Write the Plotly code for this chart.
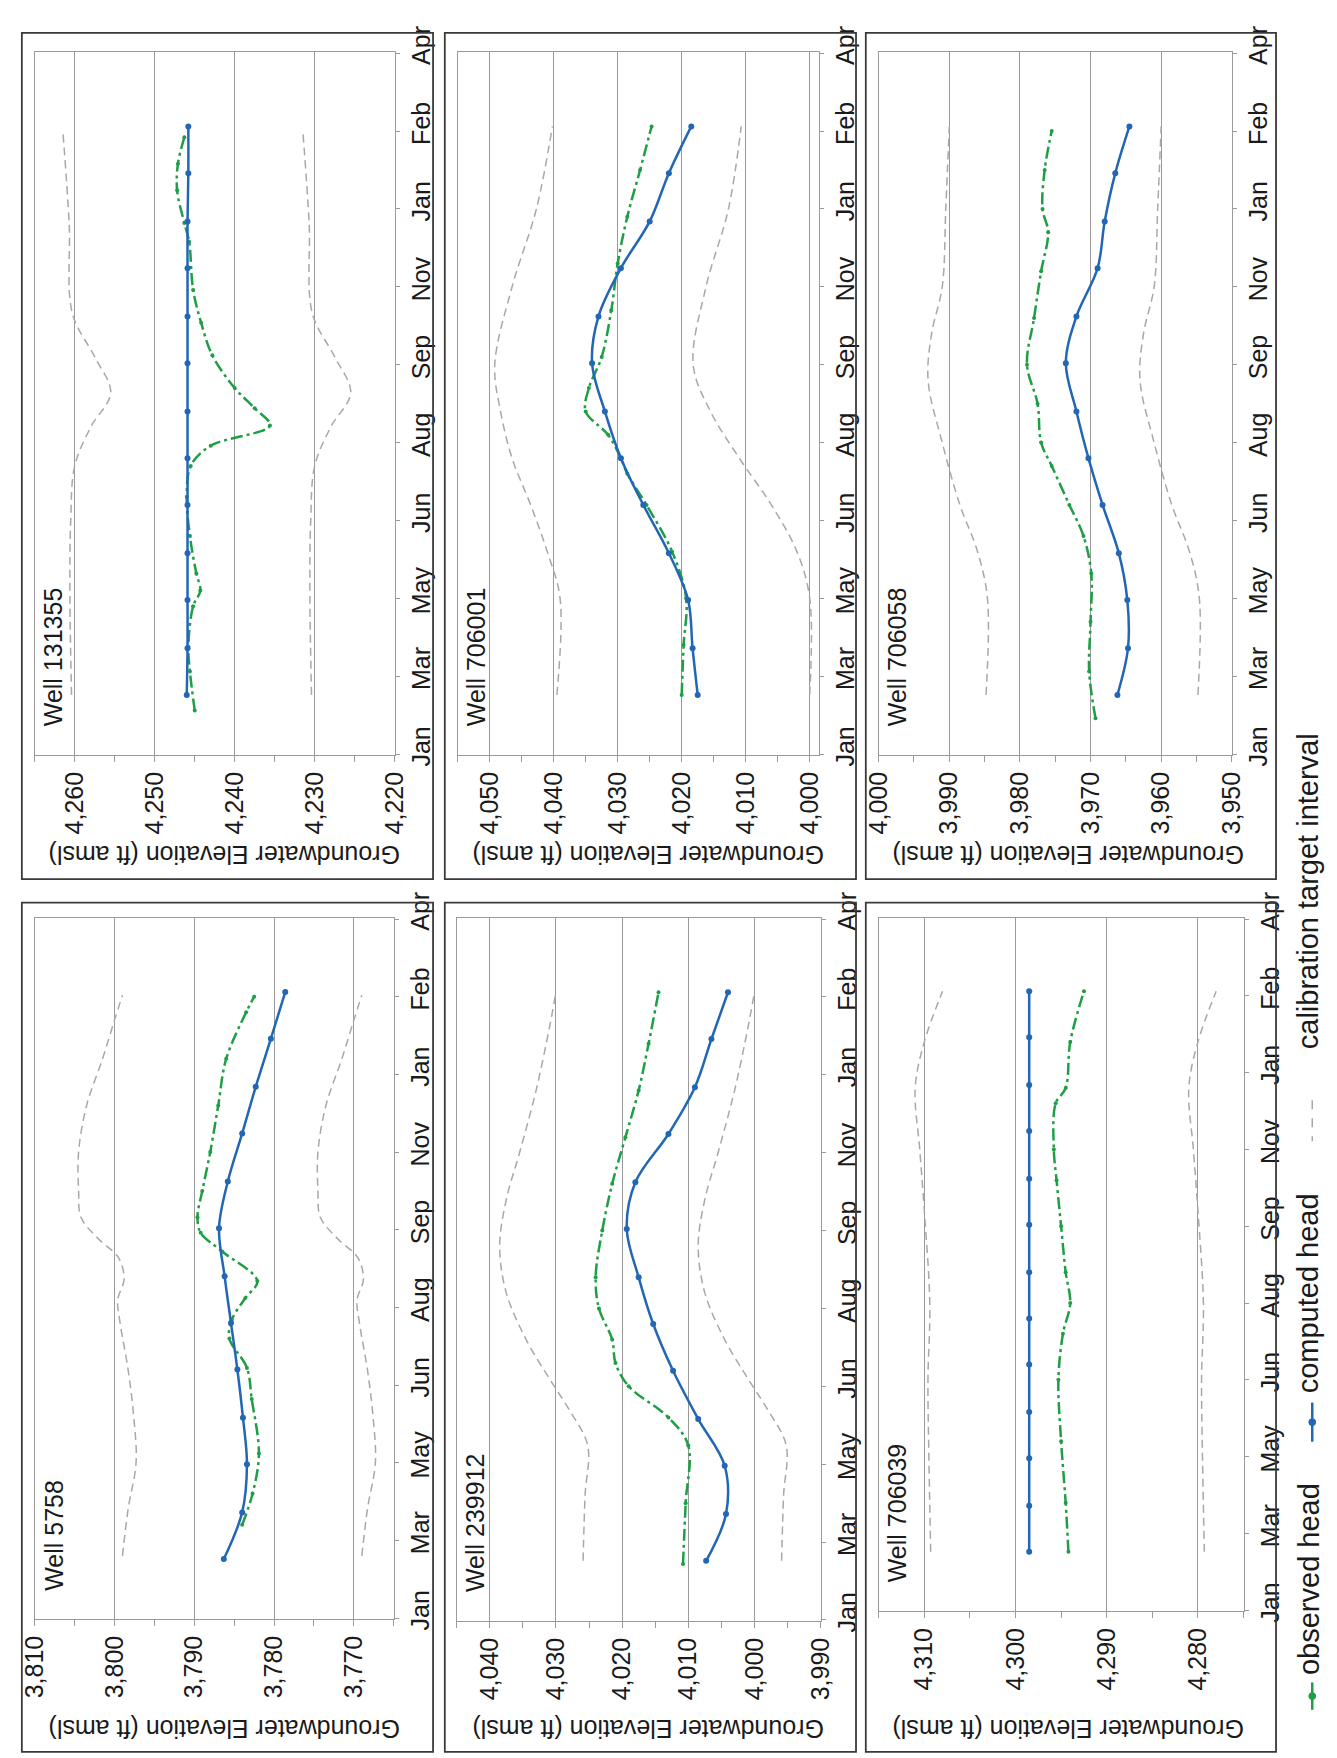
import plotly.graph_objects as go

W, H = 1337, 1758

# ---------------- data ----------------
months = ["Jan", "Mar", "May", "Jun", "Aug", "Sep", "Nov", "Jan", "Feb", "Apr"]
month_pos = [0, 50, 100, 150, 200, 250, 300, 350, 400, 450]   # day on time axis

t_computed = [38, 68, 99, 129, 160, 190, 220, 251, 281, 312, 342, 373, 403]

# Well 131355
w131355_comp = [4246.0, 4245.9, 4245.9, 4245.9, 4245.9, 4245.9, 4245.9, 4245.9, 4245.9, 4245.9, 4245.9, 4245.8, 4245.8]
w131355_obs_t = [28, 53, 69, 95, 105, 116, 140, 165, 185, 198, 211, 222, 235, 256, 277, 298, 329, 341, 362, 379, 396]
w131355_obs = [4245.0, 4245.6, 4245.8, 4245.2, 4244.3, 4244.8, 4245.6, 4246.0, 4245.5, 4243.0, 4235.6, 4237.5, 4240.0, 4242.8, 4244.2, 4245.2, 4245.7, 4246.3, 4247.2, 4247.1, 4246.3]
w131355_cal_t = [38, 100, 150, 185, 210, 232, 255, 283, 341, 401]
w131355_cal_hi = [4260.4, 4260.6, 4260.5, 4260.0, 4258.0, 4255.5, 4257.5, 4260.3, 4260.7, 4261.5]
w131355_cal_lo = [4230.4, 4230.6, 4230.5, 4230.0, 4228.0, 4225.5, 4227.5, 4230.3, 4230.7, 4231.5]

# Well 706001
w706001_comp = [4017.5, 4018.3, 4019.0, 4022.0, 4026.0, 4029.5, 4032.0, 4034.0, 4033.0, 4029.5, 4025.0, 4022.0, 4018.5]
w706001_obs_t = [38, 70, 100, 130, 160, 180, 190, 205, 220, 235, 255, 285, 315, 345, 375, 403]
w706001_obs = [4020.0, 4019.7, 4019.3, 4021.5, 4025.5, 4028.5, 4029.5, 4031.5, 4035.0, 4034.5, 4032.5, 4031.0, 4030.0, 4028.5, 4026.5, 4024.7]
w706001_cal_t = [38, 100, 130, 160, 190, 220, 250, 300, 350, 403]
w706001_cal_hi = [4039.5, 4039.0, 4041.0, 4043.6, 4046.5, 4048.3, 4049.2, 4046.5, 4042.7, 4040.2]
w706001_cal_lo = [4000.0, 4000.0, 4002.0, 4006.0, 4011.0, 4015.5, 4018.2, 4016.2, 4012.7, 4010.7]

# Well 706058
w706058_comp = [3966.2, 3964.7, 3964.8, 3966.0, 3968.3, 3970.3, 3972.0, 3973.5, 3972.0, 3969.0, 3968.0, 3966.5, 3964.5]
w706058_obs_t = [23, 53, 85, 116, 140, 160, 185, 200, 225, 250, 280, 310, 335, 350, 375, 400]
w706058_obs = [3969.3, 3970.2, 3970.0, 3969.9, 3971.0, 3973.0, 3975.5, 3977.0, 3977.5, 3979.0, 3978.0, 3977.0, 3976.0, 3976.8, 3976.5, 3975.5]
w706058_cal_t = [38, 100, 130, 160, 200, 240, 270, 300, 350, 403]
w706058_cal_hi = [3984.8, 3984.6, 3986.0, 3988.5, 3991.0, 3993.0, 3992.5, 3991.0, 3990.5, 3990.0]
w706058_cal_lo = [3954.8, 3954.6, 3956.0, 3958.5, 3961.0, 3963.0, 3962.5, 3961.0, 3960.5, 3960.0]

# Well 5758
w5758_comp = [3786.3, 3784.0, 3783.4, 3783.9, 3784.6, 3785.4, 3786.2, 3786.9, 3785.8, 3784.0, 3782.3, 3780.4, 3778.6]
w5758_obs_t = [60, 80, 106, 141, 161, 180, 192, 206, 217, 236, 248, 258, 275, 300, 330, 360, 390, 400]
w5758_obs = [3784.0, 3782.7, 3781.9, 3782.8, 3783.4, 3785.6, 3785.3, 3783.6, 3782.1, 3786.5, 3789.2, 3789.6, 3789.0, 3788.0, 3787.0, 3786.0, 3783.5, 3782.5]
w5758_cal_t = [40, 70, 100, 130, 160, 190, 205, 218, 232, 244, 258, 275, 300, 330, 360, 385, 401]
w5758_cal_hi = [3799.0, 3798.3, 3797.3, 3797.6, 3798.3, 3799.3, 3799.6, 3798.8, 3799.5, 3802.0, 3804.2, 3804.5, 3804.5, 3803.5, 3801.5, 3800.0, 3799.0]
w5758_cal_lo = [3769.0, 3768.3, 3767.3, 3767.6, 3768.3, 3769.3, 3769.6, 3768.8, 3769.5, 3772.0, 3774.2, 3774.5, 3774.5, 3773.5, 3771.5, 3770.0, 3769.0]

# Well 239912
w239912_comp = [4007.3, 4004.3, 4004.5, 4008.5, 4012.3, 4015.3, 4017.5, 4019.3, 4018.0, 4013.0, 4009.0, 4006.5, 4004.0]
w239912_obs_t = [36, 75, 112, 130, 150, 165, 180, 200, 220, 250, 280, 310, 340, 370, 403]
w239912_obs = [4010.8, 4010.4, 4010.0, 4013.0, 4019.0, 4021.0, 4021.5, 4023.5, 4024.0, 4023.0, 4021.5, 4019.5, 4017.5, 4016.0, 4014.5]
w239912_cal_t = [38, 80, 112, 135, 155, 180, 210, 240, 270, 300, 340, 380, 403]
w239912_cal_hi = [4025.9, 4025.6, 4025.2, 4028.0, 4031.0, 4034.5, 4037.5, 4038.5, 4037.5, 4035.5, 4033.0, 4031.0, 4030.0]
w239912_cal_lo = [3995.9, 3995.6, 3995.2, 3998.0, 4001.0, 4004.5, 4007.5, 4008.5, 4007.5, 4005.5, 4003.0, 4001.0, 4000.0]

# Well 706039
w706039_comp = [4298.5, 4298.5, 4298.5, 4298.5, 4298.5, 4298.5, 4298.5, 4298.5, 4298.5, 4298.5, 4298.5, 4298.5, 4298.5]
w706039_obs_t = [38, 70, 110, 150, 180, 200, 220, 250, 280, 300, 330, 340, 370, 403]
w706039_obs = [4294.2, 4294.5, 4295.0, 4295.3, 4294.8, 4294.0, 4294.5, 4295.0, 4295.5, 4295.8, 4295.6, 4294.5, 4294.0, 4292.5]
w706039_cal_t = [38, 100, 150, 200, 260, 300, 340, 370, 403]
w706039_cal_hi = [4309.3, 4309.5, 4309.6, 4309.4, 4310.0, 4310.5, 4311.0, 4310.0, 4308.0]
w706039_cal_lo = [4279.3, 4279.5, 4279.6, 4279.4, 4280.0, 4280.5, 4281.0, 4280.0, 4278.0]

wells = [
    ("Well 131355", w131355_comp, w131355_obs_t, w131355_obs, w131355_cal_t, w131355_cal_hi, w131355_cal_lo),
    ("Well 706001", w706001_comp, w706001_obs_t, w706001_obs, w706001_cal_t, w706001_cal_hi, w706001_cal_lo),
    ("Well 706058", w706058_comp, w706058_obs_t, w706058_obs, w706058_cal_t, w706058_cal_hi, w706058_cal_lo),
    ("Well 5758", w5758_comp, w5758_obs_t, w5758_obs, w5758_cal_t, w5758_cal_hi, w5758_cal_lo),
    ("Well 239912", w239912_comp, w239912_obs_t, w239912_obs, w239912_cal_t, w239912_cal_hi, w239912_cal_lo),
    ("Well 706039", w706039_comp, w706039_obs_t, w706039_obs, w706039_cal_t, w706039_cal_hi, w706039_cal_lo),
]

# ---------------- layout geometry (pixels) ----------------
# plot area: x0, x1, y0, y1, elevation axis range (left=high, right=low)
panels = [
    (20, 388, 27, 745, 4265, 4220),
    (452, 821, 27, 745, 4055, 3998.6),
    (882, 1243, 27, 745, 4000, 3950),
    (20, 387, 912, 1628, 3810, 3765),
    (451, 823, 912, 1630, 4045, 3990),
    (882, 1255, 912, 1620, 4315, 4275),
]
boxes_x = [(7, 427), (439, 859), (869, 1288)]
boxes_y = [(7, 872), (896, 1764)]

FONT = "Liberation Sans, Arial, Helvetica, sans-serif"
BLUE = "#2266b4"
GREEN = "#1f9e45"
GRAY = "#a8a8a8"
GRID = "#9a9a9a"
TXT = "#1a1a1a"

def px(x):
    return x / W

def py(y):
    return 1 - y / H

fig = go.Figure()
layout = dict(
    width=W, height=H, autosize=False,
    margin=dict(l=0, r=0, t=0, b=0),
    paper_bgcolor="white", plot_bgcolor="white",
    showlegend=False,
    font=dict(family=FONT, size=25, color=TXT),
)
annotations = []
shapes = []

for i, (p, w) in enumerate(zip(panels, wells)):
    k = i + 1
    x0, x1, y0, y1, hi, lo = p
    name, comp, obs_t, obs, cal_t, cal_hi, cal_lo = w
    xa = "x" if k == 1 else f"x{k}"
    ya = "y" if k == 1 else f"y{k}"
    pad = 0.02
    layout["xaxis" if k == 1 else f"xaxis{k}"] = dict(
        domain=[px(x0), px(x1)], anchor=ya,
        range=[hi + pad, lo - pad], dtick=10, tick0=0, tickformat=",d",
        tickangle=-90, tickfont=dict(size=25, color=TXT, family=FONT),
        ticks="outside", ticklen=6, tickcolor=GRID, tickwidth=1,
        minor=dict(dtick=5, ticks="outside", ticklen=6, tickcolor=GRID, showgrid=False),
        showgrid=True, gridcolor=GRID, gridwidth=1,
        showline=True, linecolor=GRID, linewidth=1, mirror=True,
        zeroline=False, fixedrange=True,
    )
    layout["yaxis" if k == 1 else f"yaxis{k}"] = dict(
        domain=[py(y1), py(y0)], anchor=xa, side="right",
        range=[-0.5, 450.5], tickvals=month_pos, ticktext=months,
        tickangle=-90, tickfont=dict(size=25, color=TXT, family=FONT),
        ticklabelshift=-4,
        ticks="outside", ticklen=4, tickcolor=GRID,
        showgrid=False, showline=True, linecolor=GRID, linewidth=1, mirror=True,
        zeroline=False, fixedrange=True,
    )
    # calibration interval
    for arr in (cal_hi, cal_lo):
        fig.add_trace(go.Scatter(
            x=arr, y=cal_t, xaxis=xa, yaxis=ya, mode="lines",
            line=dict(color=GRAY, width=1.5, dash="8px,5px", shape="spline", smoothing=1.0),
            hoverinfo="skip"))
    # observed head
    fig.add_trace(go.Scatter(
        x=obs, y=obs_t, xaxis=xa, yaxis=ya, mode="lines+markers",
        line=dict(color=GREEN, width=2.5, dash="12px,4px,3px,4px", shape="spline", smoothing=1.0),
        marker=dict(color=GREEN, size=4), name="observed head"))
    # computed head
    fig.add_trace(go.Scatter(
        x=comp, y=t_computed, xaxis=xa, yaxis=ya, mode="lines+markers",
        line=dict(color=BLUE, width=2.5, shape="spline", smoothing=1.0),
        marker=dict(color=BLUE, size=6), name="computed head"))

    # well label
    ly = y1 - 30 - 70 if i < 3 else y1 - 30 - (55 if name == "Well 5758" else 70)
    annotations.append(dict(
        text=name, xref="paper", yref="paper", x=px(x0 + 19), y=py(ly),
        xanchor="center", yanchor="middle", textangle=-90, showarrow=False,
        font=dict(size=25, color=TXT, family=FONT)))

# axis titles (upside down) and panel boxes
for r, (by0, by1) in enumerate(boxes_y):
    for c, (bx0, bx1) in enumerate(boxes_x):
        annotations.append(dict(
            text="Groundwater Elevation (ft amsl)", xref="paper", yref="paper",
            x=px((bx0 + bx1) / 2 - 3), y=py(848 if r == 0 else 1740),
            xanchor="center", yanchor="middle", textangle=180, showarrow=False,
            font=dict(size=25, color=TXT, family=FONT)))
        shapes.append(dict(type="rect", xref="paper", yref="paper",
                           x0=px(bx0), x1=px(bx1), y0=py(by1), y1=py(by0),
                           line=dict(color="#3a3a3a", width=1.8)))

# legend (rotated, right side)
LX = 1325
leg = [
    ("observed head", GREEN, "solid", 1693, 1721, 1707, 1587),
    ("computed head", BLUE, "solid", 1407, 1447, 1427, 1295),
    ("calibration target interval", GRAY, "dash", 1098, 1140, None, 884),
]
for text, col, dash, s0, s1, mk, tc in leg:
    shapes.append(dict(type="line", xref="paper", yref="paper",
                       x0=px(LX), x1=px(LX), y0=py(s0), y1=py(s1),
                       line=dict(color=col, width=2.5 if mk else 1.5, dash=dash)))
    if mk:
        shapes.append(dict(type="circle", xref="paper", yref="paper",
                           x0=px(LX - 3.5), x1=px(LX + 3.5), y0=py(mk + 3.5), y1=py(mk - 3.5),
                           fillcolor=col, line=dict(color=col, width=1)))
    annotations.append(dict(
        text=text, xref="paper", yref="paper", x=px(1321), y=py(tc),
        xanchor="center", yanchor="middle", textangle=-90, showarrow=False,
        font=dict(size=29, color=TXT, family=FONT)))

layout["annotations"] = annotations
layout["shapes"] = shapes
fig.update_layout(**layout)
fig.write_html("out.html")
